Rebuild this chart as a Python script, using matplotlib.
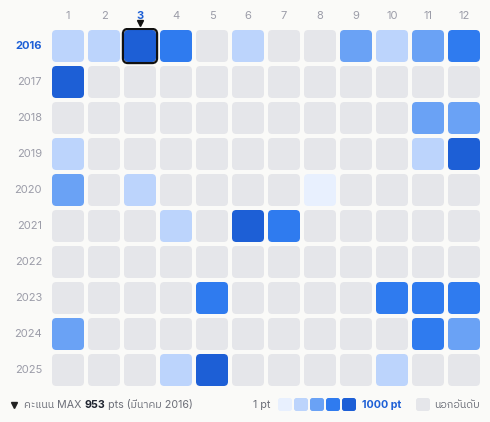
import matplotlib
matplotlib.use('Agg')
import matplotlib.pyplot as plt
from matplotlib.patches import FancyBboxPatch
import numpy as np

plt.rcParams['font.family'] = ['Inter', 'IBM Plex Sans Thai', 'DejaVu Sans']

months = [str(m) for m in range(1, 13)]
years = [str(y) for y in range(2016, 2026)]

# score per month (0 = นอกอันดับ / not ranked)
scores = [
    [310, 320, 953, 720, 0, 300, 0, 0, 520, 300, 530, 730],   # 2016
    [890, 0, 0, 0, 0, 0, 0, 0, 0, 0, 0, 0],                   # 2017
    [0, 0, 0, 0, 0, 0, 0, 0, 0, 0, 510, 500],                 # 2018
    [300, 0, 0, 0, 0, 0, 0, 0, 0, 0, 310, 870],               # 2019
    [520, 0, 300, 0, 0, 0, 0, 110, 0, 0, 0, 0],               # 2020
    [0, 0, 0, 300, 0, 880, 720, 0, 0, 0, 0, 0],               # 2021
    [0, 0, 0, 0, 0, 0, 0, 0, 0, 0, 0, 0],                     # 2022
    [0, 0, 0, 0, 720, 0, 0, 0, 0, 730, 710, 720],             # 2023
    [510, 0, 0, 0, 0, 0, 0, 0, 0, 0, 720, 520],               # 2024
    [0, 0, 0, 310, 890, 0, 0, 0, 0, 300, 0, 0],               # 2025
]
bins = [1, 200, 400, 600, 800]
level_colors = ['#e8f0fe', '#bcd4fc', '#6aa2f5', '#2f7bef', '#1d5fd6']
empty_color = '#e5e6ea'
max_year, max_month = 0, 2   # 2016, มีนาคม

W, H = 490, 422
bg = '#fafaf8'
fig = plt.figure(figsize=(W / 100, H / 100), dpi=100, facecolor=bg)

# footer / overlay axes in pixel units
fax = fig.add_axes([0, 0, 1, 1], facecolor='none')
fax.set_xlim(0, W)
fax.set_ylim(H, 0)
fax.axis('off')

# heatmap axes: cells 36px pitch starting at x=52, y=30
ax = fig.add_axes([50 / W, (H - 388) / H, 432 / W, 360 / H], facecolor='none')
ax.set_xlim(-0.5, 11.5)
ax.set_ylim(9.5, -0.5)
ax.axis('off')

size = 32 / 36
for yi, row in enumerate(scores):
    for mi, v in enumerate(row):
        if v > 0:
            lvl = int(np.searchsorted(bins, v, side='right')) - 1
            c = level_colors[lvl]
        else:
            c = empty_color
        ax.add_patch(FancyBboxPatch((mi - size / 2, yi - size / 2), size, size,
                                    boxstyle='round,pad=0,rounding_size=0.12',
                                    facecolor=c, edgecolor='none'))

# highlight the max cell
ax.add_patch(FancyBboxPatch((max_month - size / 2, max_year - size / 2), size, size,
                            boxstyle='round,pad=0.03,rounding_size=0.14',
                            facecolor='none', edgecolor='#111111', lw=1.6, zorder=5))

label_grey = '#9b9ca8'
blue = '#1d5fd6'
for mi, m in enumerate(months):
    hl = mi == max_month
    ax.text(mi, -0.82, m, ha='center', va='center', fontsize=8,
            color=blue if hl else label_grey, fontweight='bold' if hl else 'normal',
            clip_on=False)
ax.plot([max_month], [-0.64], marker='v', color='#111111', markersize=5, clip_on=False)

for yi, y in enumerate(years):
    hl = yi == max_year
    ax.text(-0.72, yi, y, ha='right', va='center', fontsize=8,
            color=blue if hl else label_grey, fontweight='bold' if hl else 'normal',
            clip_on=False)

# footer left: max summary
fig.canvas.draw()
renderer = fig.canvas.get_renderer()
foot_y = 405
txt_grey = '#6b6e78'


def run_text(x, s, **kw):
    t = fax.text(x, foot_y, s, ha='left', va='center', fontsize=7.7, **kw)
    bb = t.get_window_extent(renderer)
    return x + bb.width


fax.plot([13.5], [foot_y], marker='v', color='#222222', markersize=5)
x = 24
x = run_text(x, 'คะแนน MAX ', color=txt_grey)
x = run_text(x, str(scores[max_year][max_month]), color='#1f2430', fontweight='bold')
x = run_text(x, ' pts (มีนาคม ' + years[max_year] + ')', color=txt_grey)

# footer right: colour legend
run_text(253, '1 pt', color=txt_grey)
for i, c in enumerate(level_colors):
    fax.add_patch(FancyBboxPatch((278 + i * 16, 398), 14, 13,
                                 boxstyle='round,pad=0,rounding_size=2.5',
                                 facecolor=c, edgecolor='none'))
run_text(362, '1000 pt', color=blue, fontweight='bold')
fax.add_patch(FancyBboxPatch((416, 398), 14, 13, boxstyle='round,pad=0,rounding_size=2.5',
                             facecolor=empty_color, edgecolor='none'))
run_text(434, 'นอกอันดับ', color=txt_grey)

fig.savefig('out.png', dpi=100, facecolor=bg)
